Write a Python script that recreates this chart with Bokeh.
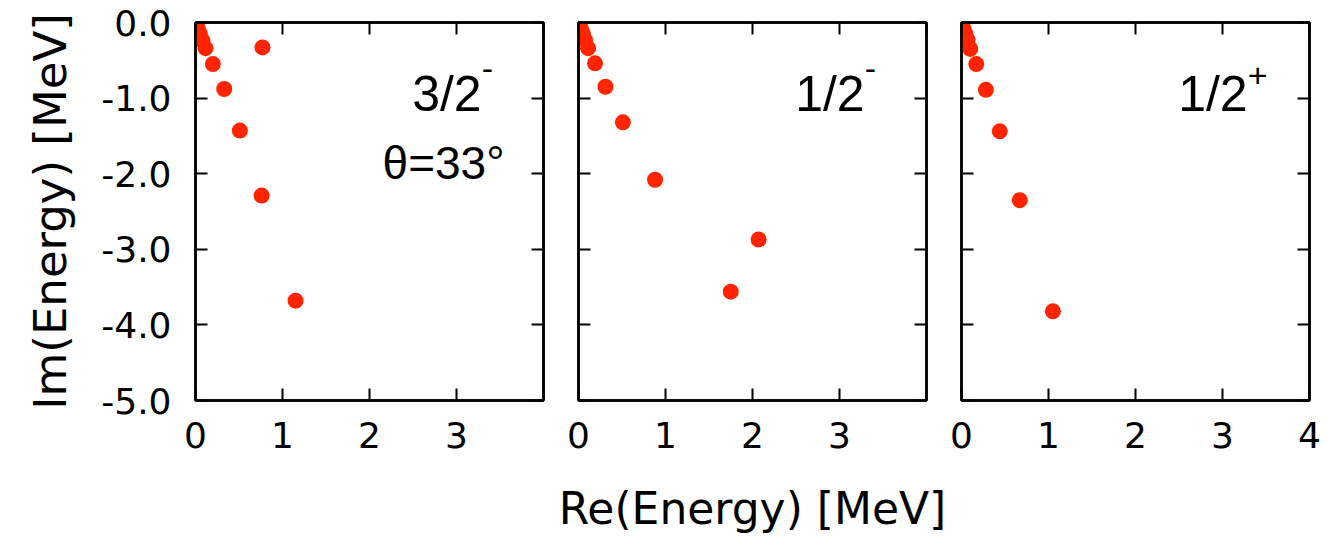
from bokeh.plotting import figure
from bokeh.layouts import row
from bokeh.models import Range1d, LinearAxis, FixedTicker, Label, Title, ColumnDataSource
from bokeh.embed import file_html
from bokeh.resources import INLINE

# Complex-scaled eigenvalues (Re, Im) in MeV for each J^pi channel
re_32m = [0.005, 0.015, 0.03, 0.05, 0.08, 0.115, 0.20, 0.33, 0.51, 0.77, 0.76, 1.15]
im_32m = [-0.02, -0.05, -0.09, -0.15, -0.24, -0.34, -0.55, -0.88, -1.43, -0.33, -2.29, -3.68]

re_12m = [0.005, 0.015, 0.03, 0.05, 0.075, 0.11, 0.19, 0.31, 0.51, 0.88, 1.75, 2.07]
im_12m = [-0.02, -0.05, -0.09, -0.15, -0.23, -0.34, -0.54, -0.85, -1.32, -2.08, -3.56, -2.87]

re_12p = [0.003, 0.012, 0.025, 0.045, 0.07, 0.10, 0.17, 0.28, 0.44, 0.67, 1.05]
im_12p = [-0.02, -0.05, -0.09, -0.15, -0.23, -0.35, -0.55, -0.89, -1.44, -2.35, -3.82]

# Axis ticks and labels
x_ticks_short = [0, 1, 2, 3]
x_ticks_full = [0, 1, 2, 3, 4]
y_ticks = [0, -1, -2, -3, -4, -5]
y_tick_labels = ["0.0", "-1.0", "-2.0", "-3.0", "-4.0", "-5.0"]

# Panel annotations
panel_names = ["3/2", "1/2", "1/2"]
panel_sups = ["-", "-", "+"]
angle_text = "\u03b8=33\u00b0"
x_title = "Re(Energy) [MeV]"
y_title = "Im(Energy) [MeV]"

LABEL_FONT = "Liberation Sans"
AXIS_FONT = "DejaVu Sans"
RED = "#ff2400"
TICK_FS = "36px"


def style_axis(ax, ticks, labels=None, show_labels=True):
    ax.ticker = FixedTicker(ticks=ticks)
    ax.major_tick_in = 12
    ax.major_tick_out = 0
    ax.major_tick_line_width = 2
    ax.major_tick_line_color = "black"
    ax.minor_tick_line_color = None
    ax.axis_line_width = 2.5
    ax.axis_line_color = "black"
    ax.major_label_text_font = AXIS_FONT
    ax.major_label_text_color = "black"
    ax.axis_label_text_font = AXIS_FONT
    ax.axis_label_text_font_style = "normal"
    ax.axis_label_text_color = "black"
    ax.axis_label_text_font_size = "44px"
    if show_labels:
        ax.major_label_text_font_size = TICK_FS
        if labels is not None:
            ax.major_label_overrides = {t: s for t, s in zip(ticks, labels)}
    else:
        ax.major_label_text_font_size = "1px"
        ax.major_label_text_color = None
        ax.major_label_standoff = 0


def make_panel(xs, ys, xticks, show_y, left, right, name, sup, sup_y,
               xlabel=None):
    p = figure(frame_width=348, frame_height=378,
               x_range=Range1d(0, 4), y_range=Range1d(-5, 0),
               output_backend="svg", toolbar_location=None,
               min_border_left=left, min_border_right=right,
               min_border_top=22, min_border_bottom=146,
               background_fill_color="white", border_fill_color="white")
    p.grid.visible = False
    p.outline_line_color = "black"
    p.outline_line_width = 2.5

    xa = p.xaxis[0]
    style_axis(xa, xticks, [str(t) for t in xticks])
    xa.major_label_standoff = 21
    if xlabel:
        xa.axis_label = xlabel
        xa.axis_label_standoff = 32

    ya = p.yaxis[0]
    if show_y:
        style_axis(ya, y_ticks, y_tick_labels)
        ya.major_label_standoff = 24
    else:
        style_axis(ya, y_ticks, show_labels=False)

    top = LinearAxis()
    style_axis(top, x_ticks_full, show_labels=False)
    p.add_layout(top, "above")
    rgt = LinearAxis()
    style_axis(rgt, y_ticks, show_labels=False)
    p.add_layout(rgt, "right")

    src = ColumnDataSource(dict(x=xs, y=ys))
    p.scatter("x", "y", source=src, size=16, fill_color=RED, line_color=None)

    p.add_layout(Label(x=2.49, y=-0.94, text=name, text_font=LABEL_FONT,
                       text_font_size="50px", text_color="black",
                       text_baseline="alphabetic", text_align="left"))
    p.add_layout(Label(x=3.29, y=sup_y, text=sup, text_font=LABEL_FONT,
                       text_font_size="34px", text_color="black",
                       text_baseline="alphabetic", text_align="left"))
    return p


p1 = make_panel(re_32m, im_32m, x_ticks_short, True, 194, 15,
                panel_names[0], panel_sups[0], -0.61)
p1.add_layout(Label(x=2.15, y=-1.865, text=angle_text, text_font=LABEL_FONT,
                    text_font_size="46px", text_color="black",
                    text_baseline="alphabetic", text_align="left"))
# vertical axis title in the left border
p1.add_layout(Title(text=y_title, align="center", offset=-22, standoff=43,
                    text_font=AXIS_FONT, text_font_size="45px",
                    text_font_style="normal", text_color="black"), "left")

p2 = make_panel(re_12m, im_12m, x_ticks_short, False, 20, 20,
                panel_names[1], panel_sups[1], -0.61, xlabel=x_title)
p3 = make_panel(re_12p, im_12p, x_ticks_full, False, 15, 29,
                panel_names[2], panel_sups[2], -0.70)

layout = row(p1, p2, p3, spacing=0)

with open("out.html", "w") as f:
    f.write(file_html(layout, INLINE))
